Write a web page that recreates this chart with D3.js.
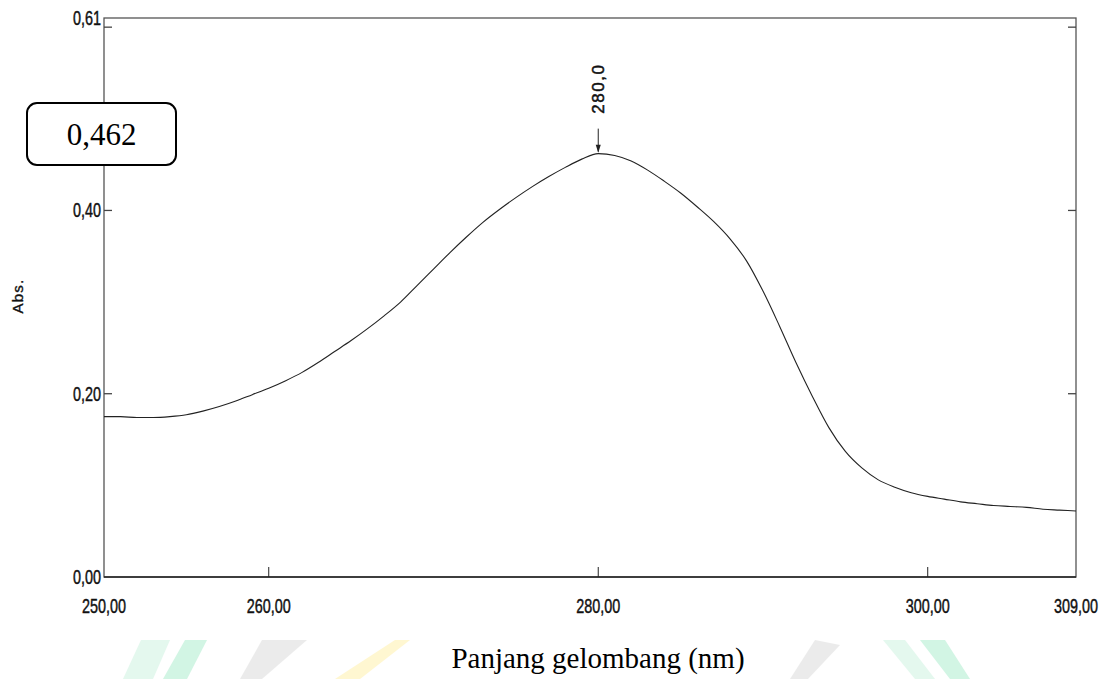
<!DOCTYPE html>
<html><head><meta charset="utf-8">
<script src="https://cdn.jsdelivr.net/npm/d3@7/dist/d3.min.js"></script>
<style>body{margin:0;background:#fff;overflow:hidden}</style></head>
<body><svg id="c" width="1108" height="679"></svg>
<script>
// ---- data ----
const wavelengths = [250,251,252,253,254,255,256,257,258,259,260,261,262,263,264,265,266,267,268,269,270,271,272,273,274,275,276,277,278,279,280,281,282,283,284,285,286,287,288,289,290,291,292,293,294,295,296,297,298,299,300,301,302,303,304,305,306,307,308,309];
const absorbance = [0.175,0.175,0.174,0.174,0.175,0.177,0.181,0.186,0.192,0.199,0.206,0.214,0.223,0.234,0.246,0.258,0.271,0.285,0.300,0.318,0.336,0.354,0.371,0.387,0.401,0.414,0.426,0.437,0.447,0.456,0.462,0.460,0.454,0.444,0.432,0.419,0.404,0.388,0.369,0.345,0.312,0.274,0.234,0.197,0.163,0.137,0.119,0.106,0.098,0.092,0.088,0.085,0.082,0.080,0.078,0.077,0.076,0.074,0.073,0.072];
const xTickValues = [250,260,280,300,309];
const xTickLabels = ["250,00","260,00","280,00","300,00","309,00"];
const yTickMarks = [0.2,0.4,0.6];
const yLabelValues = [0,0.2,0.4,0.61];
const yLabelTexts = ["0,00","0,20","0,40","0,61"];
const peakWavelength = 280;
const peakAbs = 0.462;
const peakLabel = "280,0";
const peakBoxText = "0,462";
const xTitle = "Panjang gelombang (nm)";
const yTitle = "Abs.";

// ---- chart ----
const svg = d3.select("#c");
const x = d3.scaleLinear().domain([250,309]).range([104,1076]);
const y = d3.scaleLinear().domain([0,0.61]).range([577,18]);

// faint watermark shapes at bottom
const wm = svg.append("g").attr("opacity",0.28);
wm.append("polygon").attr("points","123,679 153,679 170,640 141,640").attr("fill","#9fe8c4");
wm.append("polygon").attr("points","163,679 187,679 207,640 185,640").attr("fill","#5fdca0");
wm.append("polygon").attr("points","240,679 262,679 307,640 262,640").attr("fill","#bbbbbb");
wm.append("polygon").attr("points","335,679 360,679 410,640 395,640").attr("fill","#ffe45c");
wm.append("polygon").attr("points","790,679 808,679 840,645 815,640").attr("fill","#bbbbbb");
wm.append("polygon").attr("points","883,640 905,640 935,679 915,679").attr("fill","#9fe8c4");
wm.append("polygon").attr("points","920,640 945,640 970,679 950,679").attr("fill","#5fdca0");

// frame
svg.append("rect").attr("x",x(250)).attr("y",y(0.61)).attr("width",x(309)-x(250)).attr("height",y(0)-y(0.61))
  .attr("fill","none").attr("stroke","#555").attr("stroke-width",1.3);
svg.append("line").attr("x1",x(250)).attr("x2",x(309)).attr("y1",y(0)).attr("y2",y(0)).attr("stroke","#222").attr("stroke-width",1.3);

// y ticks (inside, both sides)
yTickMarks.forEach(v=>{
  svg.append("line").attr("x1",x(250)).attr("x2",x(250)+8).attr("y1",y(v)).attr("y2",y(v)).attr("stroke","#444").attr("stroke-width",1.3);
  svg.append("line").attr("x1",x(309)).attr("x2",x(309)-8).attr("y1",y(v)).attr("y2",y(v)).attr("stroke","#444").attr("stroke-width",1.3);
});
// x ticks (inside)
xTickValues.slice(1,-1).forEach(v=>{
  svg.append("line").attr("x1",x(v)).attr("x2",x(v)).attr("y1",y(0)).attr("y2",y(0)-10).attr("stroke","#222").attr("stroke-width",1);
});

// tick labels (condensed)
const labelStyle = t => t.attr("font-family","Liberation Sans, Arial, sans-serif").attr("font-size",20)
  .attr("fill","#111").attr("stroke","#111").attr("stroke-width",0.45);
xTickValues.forEach((v,i)=>{
  svg.append("g").attr("transform",`translate(${x(v)},613)`)
    .append("text").attr("transform","scale(0.72,1)").attr("text-anchor","middle").call(labelStyle).text(xTickLabels[i]);
});
yLabelValues.forEach((v,i)=>{
  svg.append("g").attr("transform",`translate(101,${y(v)+7})`)
    .append("text").attr("transform","scale(0.72,1)").attr("text-anchor","end").call(labelStyle).text(yLabelTexts[i]);
});

// axis titles
svg.append("text").attr("x",598).attr("y",668).attr("text-anchor","middle")
  .attr("font-family","Liberation Serif, Times New Roman, serif").attr("font-size",29).attr("fill","#000").text(xTitle);
svg.append("text").attr("transform","translate(23,296) rotate(-90)").attr("text-anchor","middle")
  .attr("font-family","Liberation Sans, Arial, sans-serif").attr("font-size",15).attr("letter-spacing",1.2)
  .attr("fill","#111").attr("stroke","#111").attr("stroke-width",0.35).text(yTitle);

// curve
const line = d3.line().x((d,i)=>x(wavelengths[i])).y(d=>y(d)).curve(d3.curveMonotoneX);
svg.append("path").datum(absorbance).attr("d",line).attr("fill","none").attr("stroke","#222").attr("stroke-width",1.1);

// peak marker
const px = x(peakWavelength), py = y(peakAbs);
svg.append("line").attr("x1",px).attr("x2",px).attr("y1",py-25).attr("y2",py-2).attr("stroke","#222").attr("stroke-width",1);
svg.append("path").attr("d",`M${px-2.5},${py-9} L${px+2.5},${py-9} L${px},${py-1} Z`).attr("fill","#222");
svg.append("text").attr("transform",`translate(${px+6},${py-65}) rotate(-90)`).attr("text-anchor","middle")
  .attr("font-family","Liberation Sans, Arial, sans-serif").attr("font-size",17).attr("letter-spacing",1.5)
  .attr("fill","#111").attr("stroke","#111").attr("stroke-width",0.5).text(peakLabel);

// value box
svg.append("rect").attr("x",27).attr("y",103).attr("width",149).attr("height",62).attr("rx",10).attr("ry",10)
  .attr("fill","#fff").attr("stroke","#000").attr("stroke-width",2);
svg.append("text").attr("x",101.5).attr("y",145).attr("text-anchor","middle")
  .attr("font-family","Liberation Serif, Times New Roman, serif").attr("font-size",31).attr("fill","#000").text(peakBoxText);
</script></body></html>
